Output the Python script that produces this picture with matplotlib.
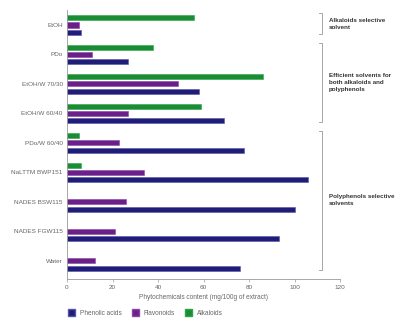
import numpy as np
import matplotlib
matplotlib.use("Agg")
import matplotlib.pyplot as plt
from matplotlib.patches import Patch

plt.rcParams["font.family"] = ["Liberation Sans", "DejaVu Sans"]

solvents = ["EtOH", "PDo", "EtOH/W 70/30", "EtOH/W 60/40", "PDo/W 60/40",
            "NaLTTM BWP151", "NADES BSW115", "NADES FGW115", "Water"]
phenolic = [6.3, 27, 58, 69, 78, 106, 100, 93, 76]
flavonoids = [5.3, 11.2, 49, 27, 23, 34, 26, 21, 12.3]
alkaloids = [56, 38, 86, 59, 5.3, 6.3, np.nan, np.nan, np.nan]

groups = [("Alkaloids selective\nsolvent", 0, 0),
          ("Efficient solvents for\nboth alkaloids and\npolyphenols", 1, 3),
          ("Polyphenols selective\nsolvents", 4, 8)]

c_blue = "#1f1d78"
c_purple = "#6a2088"
c_green = "#1a8c35"
grey = "#666666"

fig = plt.figure(figsize=(4.0, 3.32), dpi=100)
ax = fig.add_axes([0.1675, 0.16, 0.6825, 0.81])

y = np.arange(len(solvents))
h = 0.17
off = 0.245
ax.barh(y - off, alkaloids, height=h, color=c_green, edgecolor="#2aa545", linewidth=0.4)
ax.barh(y, flavonoids, height=h, color=c_purple, edgecolor="#8a45a8", linewidth=0.4)
ax.barh(y + off, phenolic, height=h, color=c_blue, edgecolor="#5555aa", linewidth=0.4)

ax.set_ylim(8.61, -0.51)
ax.set_xlim(0, 120)
ax.set_xticks(range(0, 121, 20))
ax.set_yticks(y)
ax.set_yticklabels(solvents)
ax.tick_params(axis="y", length=0, pad=3, labelsize=4.6, labelcolor=grey)
ax.tick_params(axis="x", length=2.5, width=0.5, color="#999999", labelsize=4.6,
               labelcolor=grey, pad=2)
for s in ["top", "right"]:
    ax.spines[s].set_visible(False)
for s in ["left", "bottom"]:
    ax.spines[s].set_color("#999999")
    ax.spines[s].set_linewidth(0.6)
ax.set_xlabel("Phytochemicals content (mg/100g of extract)", fontsize=4.7,
              color=grey, labelpad=3)

# brackets on the right
bx = 112.3
for label, g0, g1 in groups:
    top = g0 - 0.4
    bot = g1 + 0.3
    ax.plot([bx - 1.5, bx, bx, bx - 1.5], [top, top, bot, bot], color="#999999",
            lw=0.6, clip_on=False)
    ax.text(bx + 2.7, (top + bot) / 2, label, fontsize=4.5, fontweight="bold",
            color="#333333", va="center", ha="left", clip_on=False, linespacing=1.5)

handles = [Patch(facecolor=c_blue, edgecolor="#5555aa", label="Phenolic acids"),
           Patch(facecolor=c_purple, edgecolor="#8a45a8", label="Flavonoids"),
           Patch(facecolor=c_green, edgecolor="#2aa545", label="Alkaloids")]
leg = fig.legend(handles=handles, loc="center left", bbox_to_anchor=(0.155, 0.057),
                 ncol=3, frameon=False, fontsize=4.7, handlelength=1.1,
                 handleheight=1.1, columnspacing=1.6, handletextpad=0.7)
for t in leg.get_texts():
    t.set_color(grey)

fig.savefig("out.png", dpi=100)
